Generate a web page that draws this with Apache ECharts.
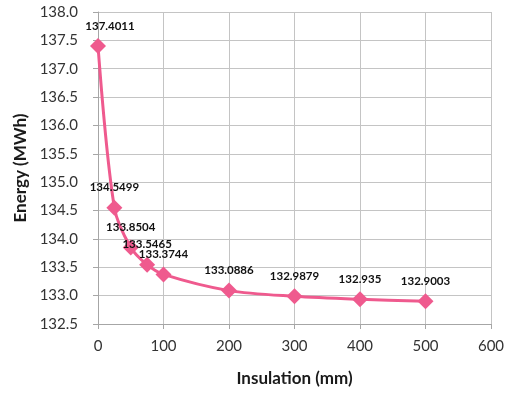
<!DOCTYPE html>
<html>
<head>
<meta charset="utf-8">
<script src="https://cdn.jsdelivr.net/npm/echarts@6/dist/echarts.min.js"></script>
<style>
  html, body { margin: 0; padding: 0; background: #fff; }
  #chart { width: 516px; height: 394px; }
</style>
</head>
<body>
<div id="chart"></div>
<script>
// insulation thickness (mm) and annual energy (MWh)
const insulation = [0, 25, 50, 75, 100, 200, 300, 400, 500];
const energy = [137.4011, 134.5499, 133.8504, 133.5465, 133.3744, 133.0886, 132.9879, 132.935, 132.9003];

const pink = "#ef5a8e";
const font = "Lato";

const chart = echarts.init(document.getElementById("chart"));

const points = insulation.map((x, i) => {
  const p = { value: [x, energy[i]] };
  // first label sits right of the marker so it is not clipped
  if (i === 0) p.label = { offset: [12, 0] };
  return p;
});

chart.setOption({
  animation: false,
  textStyle: { fontFamily: font },
  grid: { left: 98, right: 25, top: 12, bottom: 70 },
  xAxis: {
    type: "value",
    min: 0,
    max: 600,
    interval: 100,
    name: "Insulation (mm)",
    nameLocation: "middle",
    nameGap: 46,
    nameTextStyle: { fontSize: 17, fontWeight: "bold", color: "#1a1a1a", fontFamily: font },
    axisLine: { show: true, lineStyle: { color: "#a6a6a6" } },
    axisTick: { show: true, length: 5, lineStyle: { color: "#a6a6a6" } },
    axisLabel: { fontSize: 15, color: "#333", margin: 15, fontFamily: font },
    splitLine: { show: true, lineStyle: { color: "#c4c4c4" } },
  },
  yAxis: {
    type: "value",
    min: 132.5,
    max: 138,
    interval: 0.5,
    name: "Energy (MWh)",
    nameLocation: "middle",
    nameGap: 65,
    nameTextStyle: { fontSize: 17, fontWeight: "bold", color: "#1a1a1a", fontFamily: font },
    axisLine: { show: true, lineStyle: { color: "#a6a6a6" } },
    axisTick: { show: true, length: 5, lineStyle: { color: "#a6a6a6" } },
    axisLabel: {
      fontSize: 15,
      color: "#333",
      margin: 20,
      fontFamily: font,
      formatter: (v) => v.toFixed(1),
    },
    splitLine: { show: true, lineStyle: { color: "#c4c4c4" } },
  },
  series: [
    {
      type: "line",
      data: points,
      smooth: 0.3,
      symbol: "diamond",
      symbolSize: 16,
      itemStyle: { color: pink },
      lineStyle: { color: pink, width: 3 },
      label: {
        show: true,
        position: "top",
        distance: 6,
        fontSize: 11.5,
        fontWeight: "bold",
        color: "#111",
        fontFamily: font,
        formatter: (p) => String(p.value[1]),
      },
    },
  ],
});
</script>
</body>
</html>
